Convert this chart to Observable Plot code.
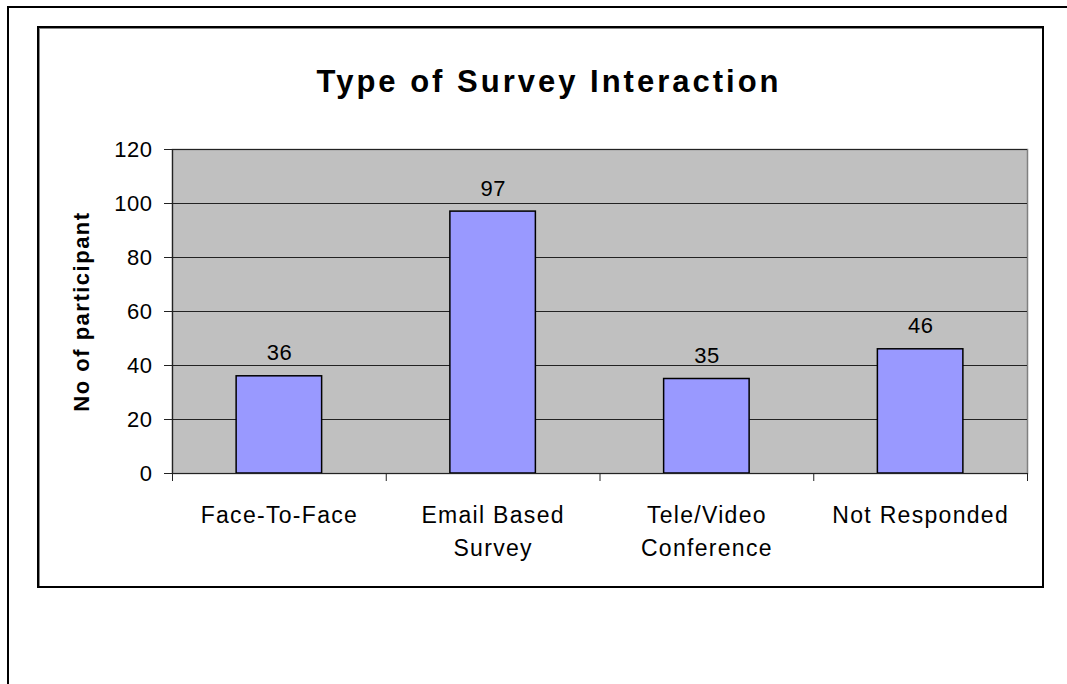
<!DOCTYPE html>
<html>
<head>
<meta charset="utf-8">
<script src="https://cdn.jsdelivr.net/npm/d3@7"></script>
<script src="https://cdn.jsdelivr.net/npm/@observablehq/plot@0.6"></script>
<style>
  html, body { margin: 0; padding: 0; background: #fff; }
  #wrap { position: relative; width: 1067px; height: 684px; overflow: hidden; }
  #outerTop { position: absolute; left: 7px; top: 6px; width: 1060px; height: 2px; background: #000; }
  #outerLeft { position: absolute; left: 7px; top: 6px; width: 2px; height: 678px; background: #000; }
  #innerBox { position: absolute; left: 37px; top: 26px; width: 1003px; height: 558px; border: 2.5px solid #000; box-shadow: inset 1px 1px 0 #888; }
  #chart { position: absolute; left: 0; top: 0; }
</style>
</head>
<body>
<div id="wrap">
  <div id="outerTop"></div>
  <div id="outerLeft"></div>
  <div id="innerBox"></div>
  <div id="chart"></div>
</div>
<script>
const chartTitle = "Type of Survey Interaction";
const yLabel = "No of participant";
const categories = ["Face-To-Face", "Email Based\nSurvey", "Tele/Video\nConference", "Not Responded"];
const values = [36, 97, 35, 46];
const yTicks = [0, 20, 40, 60, 80, 100, 120];

const data = categories.map((c, i) => ({category: c, index: i, value: values[i]}));
const boundaries = d3.range(categories.length + 1);

const font = "'Liberation Sans', Arial, sans-serif";

const plot = Plot.plot({
  width: 1067,
  height: 684,
  marginLeft: 172,
  marginRight: 40,
  marginTop: 149,
  marginBottom: 211,
  style: {fontFamily: font, background: "transparent", color: "#000"},
  x: {type: "linear", domain: [0, categories.length], axis: null},
  y: {domain: [0, 120], axis: null},
  marks: [
    Plot.frame({fill: "#C0C0C0", stroke: "#808080", strokeWidth: 1.5}),
    Plot.gridY(yTicks, {stroke: "#222", strokeOpacity: 1, strokeWidth: 1}),
    Plot.rectY(data, {x1: d => d.index + 0.3, x2: d => d.index + 0.7, y: "value", fill: "#9999FF", stroke: "#000", strokeWidth: 1.5}),
    Plot.ruleX([0], {stroke: "#222", strokeWidth: 1.2}),
    Plot.ruleY([0], {stroke: "#222", strokeWidth: 1.2}),
    Plot.axisY({ticks: yTicks, label: null, tickSize: 8, tickPadding: 12, fontSize: 22, tickFormat: d => String(d), stroke: "#222"}),
    Plot.axisX({ticks: boundaries, label: null, tickSize: 8, tickFormat: () => "", stroke: "#222"}),
    Plot.text(data, {x: d => d.index + 0.5, frameAnchor: "bottom", text: "category", lineAnchor: "top", dy: 26, fontSize: 23, lineHeight: 1.43, fill: "#000"}),
    Plot.text(data, {x: d => d.index + 0.5, y: "value", text: d => String(d.value), dy: -23, fontSize: 22, fill: "#000"}),
    Plot.text([chartTitle], {frameAnchor: "top", lineAnchor: "middle", dx: -51, dy: -67, fontSize: 31, fontWeight: "bold", fill: "#000"}),
    Plot.text([yLabel], {frameAnchor: "left", textAnchor: "middle", lineAnchor: "middle", rotate: -90, dx: -91, fontSize: 22, fontWeight: "bold", fill: "#000"})
  ]
});
const flatCats = categories.map(c => c.replace("\n", ""));
d3.select(plot).selectAll("text").each(function() {
  const s = this.textContent;
  let ls = "0.5px";
  if (s === chartTitle) ls = "3px";
  else if (s === yLabel) ls = "1.5px";
  else if (flatCats.includes(s)) ls = "1.3px";
  this.setAttribute("letter-spacing", ls);
  this.style.letterSpacing = ls;
});
document.getElementById("chart").appendChild(plot);
</script>
</body>
</html>
